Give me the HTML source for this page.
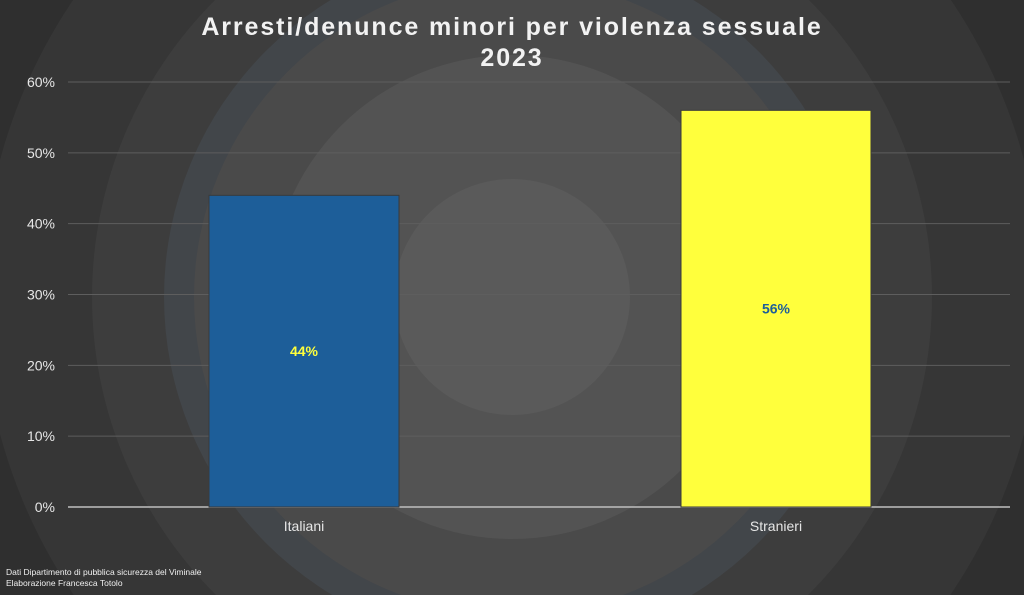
<!DOCTYPE html>
<html><head><meta charset="utf-8"><style>
html,body{margin:0;padding:0;width:1024px;height:595px;overflow:hidden;background:#2a2a2a}
svg{display:block;overflow:hidden;position:absolute;left:0;top:0}
text{font-family:"Liberation Sans",Arial,sans-serif}
</style></head><body>
<svg id="chart" width="1024" height="595" viewBox="0 0 1024 595">
  <g>
    <rect width="1024" height="595" fill="#262626"/>
    <circle cx="512" cy="297" r="660" fill="#2f2f2f"/>
    <circle cx="512" cy="297" r="530" fill="#363636"/>
    <circle cx="512" cy="297" r="420" fill="#3d3d3d"/>
    <circle cx="512" cy="297" r="348" fill="#42464a"/>
    <circle cx="512" cy="297" r="318" fill="#4a4a4a"/>
    <circle cx="512" cy="297" r="242" fill="#535353"/>
    <circle cx="512" cy="297" r="118" fill="#5a5a5a"/>
  </g>
  <text x="512" y="35" text-anchor="middle" font-size="25" font-weight="bold" letter-spacing="1.9" fill="#f2f2f2">Arresti/denunce minori per violenza sessuale</text>
  <text x="512" y="66" text-anchor="middle" font-size="25" font-weight="bold" letter-spacing="1.9" fill="#f2f2f2">2023</text>
  <g id="grid"></g>
  <g id="bars"></g>
  <g id="labels"></g>
  <text x="6" y="575" font-size="8.5" fill="#f0f0f0">Dati Dipartimento di pubblica sicurezza del Viminale</text>
  <text x="6" y="586" font-size="8.5" fill="#f0f0f0">Elaborazione Francesca Totolo</text>
</svg>
<script>
const categories = ["Italiani", "Stranieri"];
const values = [44, 56];
const valueLabels = ["44%", "56%"];
const ticks = [0, 10, 20, 30, 40, 50, 60];
const tickLabels = ["0%", "10%", "20%", "30%", "40%", "50%", "60%"];
const barColors = ["#1d5e99", "#ffff3c"];
const labelColors = ["#ffff3c", "#1d5e99"];

const NS = "http://www.w3.org/2000/svg";
const x0 = 68, x1 = 1012, lineEnd = 1010, yBase = 507, yTop = 82, yMax = 60;
const y = v => yBase - (v / yMax) * (yBase - yTop);
const band = (x1 - x0) / categories.length;
const xc = i => x0 + band * (i + 0.5);
const barW = 190;
function mk(tag, attrs, parent) {
  const e = document.createElementNS(NS, tag);
  for (const k in attrs) e.setAttribute(k, attrs[k]);
  parent.appendChild(e);
  return e;
}
const grid = document.getElementById("grid");
ticks.forEach((t, i) => {
  const l = mk("line", {x1: x0, x2: lineEnd, y1: y(t), y2: y(t), stroke: t === 0 ? "#bfbfbf" : "#5e5e5e", "stroke-width": t === 0 ? 1.5 : 1}, grid);
  
  
  const tx = mk("text", {x: 55, y: y(t) + 5, "text-anchor": "end", "font-size": 14, fill: "#e6e6e6"}, grid);
  tx.textContent = tickLabels[i];
  
  
});
const bars = document.getElementById("bars"), labels = document.getElementById("labels");
categories.forEach((c, i) => {
  const r = mk("rect", {x: xc(i) - barW / 2, y: y(values[i]), width: barW, height: yBase - y(values[i]), fill: barColors[i], stroke: "#3a3a3a", "stroke-width": 1}, bars);
  
  
  const v = mk("text", {x: xc(i), y: (y(values[i]) + yBase) / 2 + 5, "text-anchor": "middle", "font-size": 14, "font-weight": "bold", fill: labelColors[i]}, labels);
  v.textContent = valueLabels[i];
  
  
  const t = mk("text", {x: xc(i), y: 531, "text-anchor": "middle", "font-size": 14, fill: "#e6e6e6"}, labels);
  t.textContent = c;
  
  
});
</script>
</body></html>
